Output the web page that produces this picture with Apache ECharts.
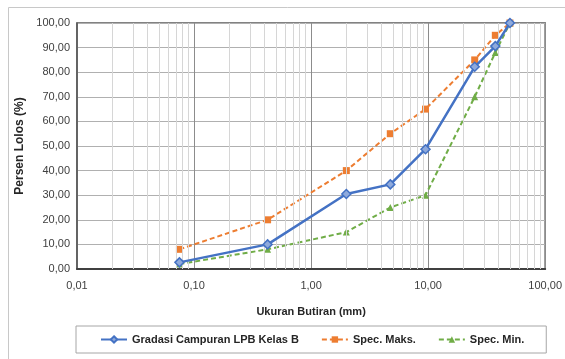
<!DOCTYPE html>
<html>
<head>
<meta charset="utf-8">
<script src="https://cdn.jsdelivr.net/npm/echarts@6/dist/echarts.min.js"></script>
<style>
html,body{margin:0;padding:0;background:#fff;}
#chart{width:565px;height:359px;}
</style>
</head>
<body>
<div id="chart"></div>
<script>
// ukuran saringan (mm)
var sieves = [0.075, 0.425, 2, 4.75, 9.5, 25, 37.5, 50];
var gradasi = [2.7, 10.0, 30.5, 34.4, 48.7, 82.2, 90.6, 100];
var specMaks = [8, 20, 40, 55, 65, 85, 95, 100];
var specMin = [2, 8, 15, 25, 30, 70, 88, 100];
var minorGrid = [0.02,0.03,0.04,0.05,0.06,0.07,0.08,0.09,
	0.2,0.3,0.4,0.5,0.6,0.7,0.8,0.9,
	2,3,4,5,6,7,8,9,
	20,30,40,50,60,70,80,90];

function pairs(ys){
	var out = [];
	for(var i=0;i<sieves.length;i++){
		out.push([sieves[i], ys[i]]);
	}
	return out;
}
function fmt(v){
	return Number(v).toFixed(2).replace('.', ',');
}
var font = '"Liberation Sans", Arial, sans-serif';

var myChart = echarts.init(document.getElementById('chart'));
var option = {
	backgroundColor: '#fff',
	animation: false,
	graphic: [{
		type: 'rect',
		shape: {x: 8.5, y: 7.5, width: 570, height: 370},
		style: {fill: 'none', stroke: '#c8c8c8', lineWidth: 1},
		silent: true
	}],
	grid: {
		left: 77,
		right: 18,
		top: 23,
		bottom: 90,
		show: true,
		borderColor: '#595959',
		borderWidth: 1.5
	},
	legend: {
		data: ['Gradasi Campuran LPB Kelas B', 'Spec. Maks.', 'Spec. Min.'],
		left: 76,
		top: 326,
		width: 480,
		padding: [8, 22, 8, 24],
		itemGap: 22,
		itemWidth: 26,
		itemHeight: 8,
		borderColor: '#a6a6a6',
		borderWidth: 1,
		textStyle: {
			fontFamily: font,
			fontWeight: 'bold',
			fontSize: 11,
			color: '#262626'
		}
	},
	xAxis: {
		type: 'log',
		logBase: 10,
		min: 0.01,
		max: 100,
		name: 'Ukuran Butiran (mm)',
		nameLocation: 'middle',
		nameGap: 37,
		nameTextStyle: {
			fontFamily: font,
			fontWeight: 'bold',
			fontSize: 11,
			color: '#262626'
		},
		axisLine: {show: true, onZero: false, lineStyle: {color: '#404040', width: 2}},
		axisTick: {show: false},
		axisLabel: {
			formatter: fmt,
			fontFamily: font,
			fontSize: 11,
			color: '#404040',
			margin: 11
		},
		splitLine: {show: true, lineStyle: {color: '#8c8c8c', width: 1}}
	},
	yAxis: {
		type: 'value',
		min: 0,
		max: 100,
		interval: 10,
		name: 'Persen Lolos (%)',
		nameLocation: 'middle',
		nameGap: 38,
		nameTextStyle: {
			fontFamily: font,
			fontWeight: 'bold',
			fontSize: 12,
			color: '#262626'
		},
		axisLine: {show: true, lineStyle: {color: '#595959', width: 1.5}},
		axisTick: {show: false},
		axisLabel: {
			formatter: fmt,
			fontFamily: font,
			fontSize: 11,
			color: '#404040',
			margin: 7
		},
		splitLine: {show: true, lineStyle: {color: '#b0b0b0', width: 1}}
	},
	series: [
		{
			name: 'minor',
			type: 'line',
			data: [],
			z: 1,
			silent: true,
			markLine: {
				silent: true,
				symbol: 'none',
				label: {show: false},
				lineStyle: {color: '#d6d6d6', type: 'solid', width: 1},
				data: minorGrid.map(function(v){ return {xAxis: v}; })
			}
		},
		{
			name: 'Spec. Min.',
			type: 'line',
			data: pairs(specMin),
			z: 3,
			symbol: 'triangle',
			symbolSize: 7,
			itemStyle: {color: '#70AD47'},
			lineStyle: {color: '#70AD47', width: 2, type: [5, 3]}
		},
		{
			name: 'Spec. Maks.',
			type: 'line',
			data: pairs(specMaks),
			z: 4,
			symbol: 'rect',
			symbolSize: 7,
			itemStyle: {color: '#ED7D31'},
			lineStyle: {color: '#ED7D31', width: 2, type: [5, 3]}
		},
		{
			name: 'Gradasi Campuran LPB Kelas B',
			type: 'line',
			data: pairs(gradasi),
			z: 5,
			symbol: 'diamond',
			symbolSize: 9,
			itemStyle: {color: '#8FAADC', borderColor: '#4472C4', borderWidth: 1.5},
			lineStyle: {color: '#4472C4', width: 2.5}
		}
	]
};
myChart.setOption(option);
</script>
</body>
</html>
